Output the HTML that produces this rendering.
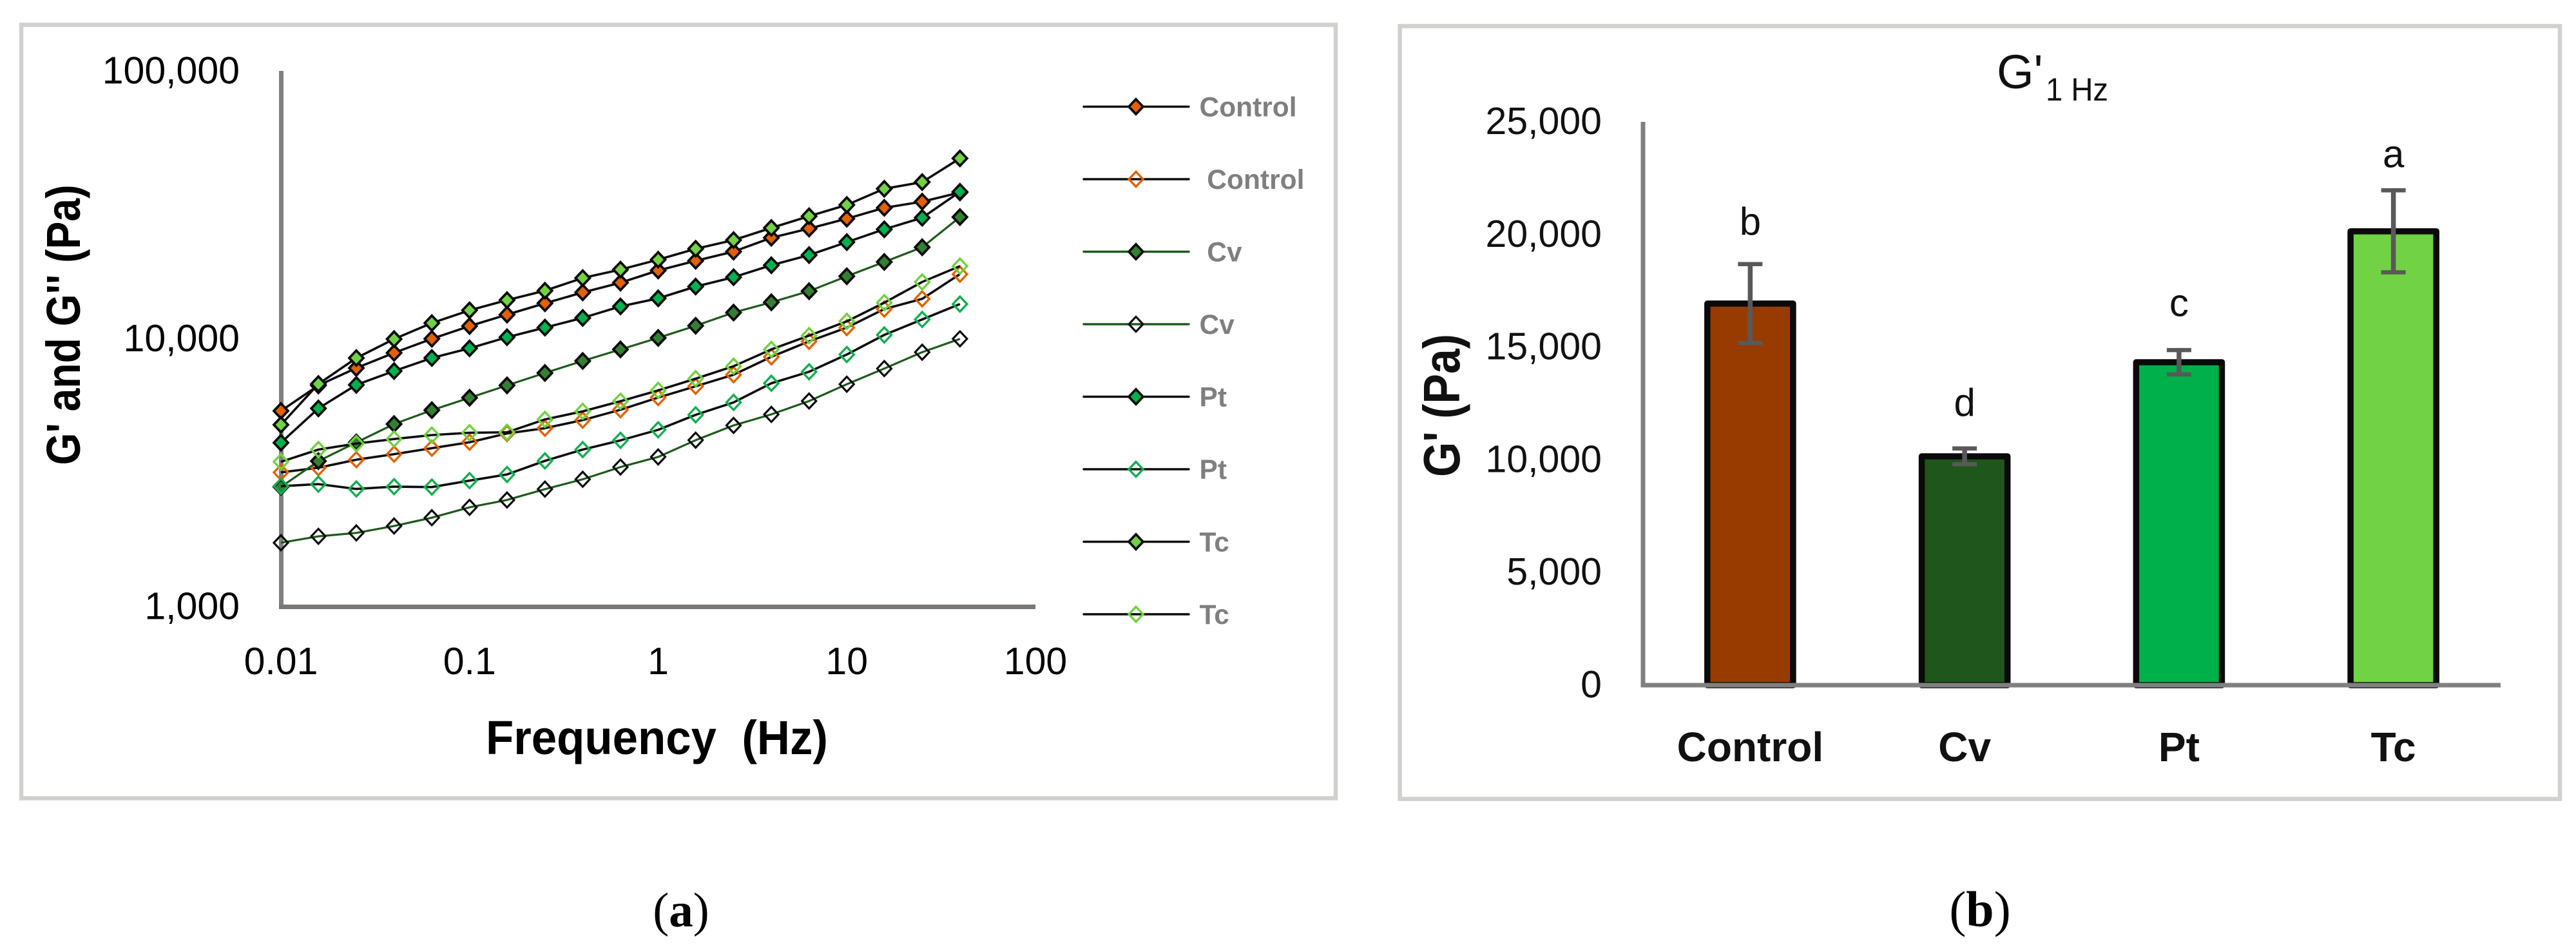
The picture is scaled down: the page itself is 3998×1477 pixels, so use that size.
<!DOCTYPE html>
<html lang="en">
<head>
<meta charset="utf-8">
<title>G' and G'' frequency sweep and G' at 1 Hz</title>
<style>
html,body{margin:0;padding:0;background:#fff;}
svg{display:block;}
text{font-family:"Liberation Sans",sans-serif;}
</style>
</head>
<body>
<svg id="figure" xmlns="http://www.w3.org/2000/svg" width="3998" height="1477" viewBox="0 0 3998 1477">
  <rect x="0" y="0" width="3998" height="1477" fill="#ffffff"/>
  <rect x="33" y="38.5" width="2040" height="1200" fill="#ffffff" stroke="#d0d0ce" stroke-width="6.5"/>
  <rect x="2172.5" y="40.5" width="1800.5" height="1199" fill="#ffffff" stroke="#d0d0ce" stroke-width="6.5"/>

  <g id="chart-a"></g>
  <g id="chart-b"></g>

  <text x="1019.5" y="1170" text-anchor="middle" font-size="74" font-weight="700" fill="#000" textLength="531" lengthAdjust="spacingAndGlyphs" xml:space="preserve">Frequency  (Hz)</text>
  <text x="124" y="504" text-anchor="middle" font-size="74" font-weight="700" fill="#000" transform="rotate(-90 124 504)" textLength="435" lengthAdjust="spacingAndGlyphs">G' and G'' (Pa)</text>
  <text x="2265" y="629" text-anchor="middle" font-size="80" font-weight="700" fill="#111" transform="rotate(-90 2265 629)" textLength="222" lengthAdjust="spacingAndGlyphs">G' (Pa)</text>

  <text x="3099" y="137" font-size="74" fill="#111">G'</text>
  <text x="3175" y="156" font-size="50" fill="#111" textLength="97" lengthAdjust="spacingAndGlyphs">1 Hz</text>

  <text x="1057" y="1437" text-anchor="middle" font-size="75" fill="#000" style="font-family:'Liberation Serif',serif">(<tspan font-weight="700">a</tspan>)</text>
  <text x="3073" y="1437" text-anchor="middle" font-size="78" fill="#000" style="font-family:'Liberation Serif',serif">(<tspan font-weight="700">b</tspan>)</text>
</svg>

<script>
// ---------- Panel (a) data ----------
const frequencies = [0.01,0.0158,0.0251,0.0398,0.0631,0.1,0.158,0.251,0.398,0.631,1,1.58,2.51,3.98,6.31,10,15.8,25.1,39.8];
const controlStorage = [5376,6690,7770,8855,9990,11150,12300,13565,14890,16190,17980,19540,21140,23820,25780,28060,30810,32480,35170];
const controlLoss = [3168,3298,3534,3707,3901,4107,4428,4633,4966,5430,6030,6644,7337,8557,9775,11005,12900,14090,17420];
const cvStorage = [2797,3491,4100,4801,5409,6018,6695,7450,8260,9120,10070,11180,12520,13680,15050,17110,19350,21950,28460];
const cvLoss = [1730,1829,1883,1998,2146,2346,2499,2744,2986,3317,3619,4180,4746,5216,5853,6763,7736,8906,9990];
const ptStorage = [4090,5492,6725,7573,8472,9206,10130,11005,11960,13200,14150,15660,16970,18810,20530,22940,25620,28280,35380];
const ptLoss = [2814,2864,2748,2803,2793,2951,3112,3498,3855,4174,4570,5197,5784,6818,7526,8730,10330,11800,13470];
const tcStorage = [4772,6777,8470,9970,11440,12770,13935,15110,16850,18120,19730,21670,23350,25920,28670,31590,36290,38450,47130];
const tcLoss = [3472,3855,4058,4222,4368,4456,4473,4996,5355,5841,6412,7093,7893,9120,10270,11610,13630,16290,18660];
const legendLabels = ['Control','\u00a0Control','\u00a0Cv','Cv','Pt','Pt','Tc','Tc'];
const yTicksA = [1000,10000,100000];
const yTickLabelsA = ['1,000','10,000','100,000'];
const xTicksA = [0.01,0.1,1,10,100];
const xTickLabelsA = ['0.01','0.1','1','10','100'];

// ---------- Panel (b) data ----------
const barCategories = ['Control','Cv','Pt','Tc'];
const barValues = [16934,10155,14330,20140];
const barErrors = [1750,350,540,1820];
const barLetters = ['b','d','c','a'];
const letterAnchors = [19994,11957,16376,22981];
const yTicksB = [0,5000,10000,15000,20000,25000];
const yTickLabelsB = ['0','5,000','10,000','15,000','20,000','25,000'];

const NS = 'http://www.w3.org/2000/svg';
function make(parent, tag, attrs, content){
  const el = document.createElementNS(NS, tag);
  for (const k in attrs) el.setAttribute(k, attrs[k]);
  if (content !== undefined) el.textContent = content;
  parent.appendChild(el);
  return el;
}

// ---------- Panel (a) ----------
const chartA = document.getElementById('chart-a');
const xA = f => 436 + 292.75 * Math.log10(f / 0.01);
const yA = v => 941 - 415.5 * Math.log10(v / 1000);

const BLACK = '#0c0c0c';
const CV_LINE = '#1e5a1c';
const seriesA = [
  {name:'control-storage', values:controlStorage, line:BLACK, lw:3.6, fill:'#e36005', stroke:BLACK, sw:3.8},
  {name:'control-loss', values:controlLoss, line:BLACK, lw:3.6, fill:'none', stroke:'#e56100', sw:3.4},
  {name:'cv-storage', values:cvStorage, line:CV_LINE, lw:3.2, fill:'#338033', stroke:BLACK, sw:3.8},
  {name:'cv-loss', values:cvLoss, line:CV_LINE, lw:3.2, fill:'none', stroke:BLACK, sw:3.2},
  {name:'pt-storage', values:ptStorage, line:BLACK, lw:3.6, fill:'#00b24e', stroke:BLACK, sw:3.8},
  {name:'pt-loss', values:ptLoss, line:BLACK, lw:3.6, fill:'none', stroke:'#10b04e', sw:3.4},
  {name:'tc-storage', values:tcStorage, line:BLACK, lw:3.6, fill:'#70d244', stroke:BLACK, sw:3.8},
  {name:'tc-loss', values:tcLoss, line:BLACK, lw:3.6, fill:'none', stroke:'#6fd13e', sw:3.4}
];

function diamondPoints(cx, cy){
  const hw = 11, hh = 11.6;
  return [cx, cy-hh, cx+hw, cy, cx, cy+hh, cx-hw, cy].join(',');
}

const axisYA = make(chartA, 'line', {x1:xA(0.01)+0.5, x2:xA(0.01)+0.5, y1:yA(100000), y2:yA(1000)+4, stroke:'#808080', 'stroke-width':7});


const axisXA = make(chartA, 'line', {x1:xA(0.01)-3, x2:xA(100), y1:yA(1000)+0.5, y2:yA(1000)+0.5, stroke:'#7a7674', 'stroke-width':7});



yTicksA.forEach((t, i) => {
  const label = make(chartA, 'text', {x:372, y:yA(t)+19.7, 'text-anchor':'end', 'font-size':59, fill:'#000'}, yTickLabelsA[i]);
  
  
});
xTicksA.forEach((t, i) => {
  const label = make(chartA, 'text', {x:xA(t), y:1046, 'text-anchor':'middle', 'font-size':59, fill:'#000'}, xTickLabelsA[i]);
  
  
});

seriesA.forEach(s => {
  const group = make(chartA, 'g', {});
  
  
  const pts = s.values.map((v, i) => xA(frequencies[i]).toFixed(1) + ',' + yA(v).toFixed(1)).join(' ');
  const line = make(group, 'polyline', {points:pts, fill:'none', stroke:s.line, 'stroke-width':s.lw, 'stroke-linejoin':'round'});
  
  
  s.values.forEach((v, i) => {
    const m = make(group, 'polygon', {points:diamondPoints(xA(frequencies[i]), yA(v)), fill:s.fill, stroke:s.stroke, 'stroke-width':s.sw});
    
    
  });
});

// Legend
const legendTop = 165.5, legendStep = 112.5;
seriesA.forEach((s, i) => {
  const y = legendTop + legendStep * i;
  const entry = make(chartA, 'g', {});
  
  
  const swatch = make(entry, 'line', {x1:1682, x2:1845, y1:y, y2:y, stroke:s.line, 'stroke-width':3.4, 'stroke-linecap':'round'});
  
  
  const mark = make(entry, 'polygon', {points:diamondPoints(1763, y), fill:s.fill, stroke:s.stroke, 'stroke-width':s.sw});
  
  
  const text = make(entry, 'text', {x:1861.5, y:y+15, 'font-size':42.5, 'font-weight':700, fill:'#7f7f7f'}, legendLabels[i]);
  
  
});

// ---------- Panel (b) ----------
const chartB = document.getElementById('chart-b');
const axisLeft = 2550, axisRight = 3881;
const bandWidth = (axisRight - axisLeft) / barCategories.length;
const xB = i => axisLeft + bandWidth * (i + 0.5);
const yB = v => 1063 - v * 0.03496;
const barFills = ['#983b00','#1f561b','#00b04a','#70d244'];
const innerBar = bandWidth * 0.4;

barValues.forEach((v, i) => {
  const bar = make(chartB, 'rect', {x:xB(i)-innerBar/2, y:yB(v), width:innerBar, height:yB(0)-yB(v), fill:barFills[i], stroke:'#0a0a0a', 'stroke-width':9.5, 'stroke-linejoin':'round'});
  
  
});

const axisYB = make(chartB, 'line', {x1:axisLeft, x2:axisLeft, y1:yB(25000), y2:yB(0)+3.5, stroke:'#808080', 'stroke-width':7});


const axisXB = make(chartB, 'line', {x1:axisLeft-3.5, x2:axisRight, y1:yB(0), y2:yB(0), stroke:'#808080', 'stroke-width':7});



yTicksB.forEach((t, i) => {
  const label = make(chartB, 'text', {x:2486, y:yB(t)+19, 'text-anchor':'end', 'font-size':59, fill:'#111'}, yTickLabelsB[i]);
  
  
});

barCategories.forEach((c, i) => {
  const label = make(chartB, 'text', {x:xB(i), y:1181, 'text-anchor':'middle', 'font-size':64, 'font-weight':700, fill:'#111'}, c);
  
  

  const top = yB(barValues[i] + barErrors[i]);
  const bottom = yB(barValues[i] - barErrors[i]);
  const cap = 19;
  const err = make(chartB, 'g', {stroke:'#595959', 'stroke-width':6.5});
  
  
  const stem = make(err, 'line', {x1:xB(i), x2:xB(i), y1:top, y2:bottom, 'stroke-width':7.5});
  
  
  const capTop = make(err, 'line', {x1:xB(i)-cap, x2:xB(i)+cap, y1:top, y2:top});
  
  
  const capBottom = make(err, 'line', {x1:xB(i)-cap, x2:xB(i)+cap, y1:bottom, y2:bottom});
  
  

  const letter = make(chartB, 'text', {x:xB(i), y:yB(letterAnchors[i]), 'text-anchor':'middle', 'font-size':60, fill:'#111'}, barLetters[i]);
  
  
});
</script>
</body>
</html>
